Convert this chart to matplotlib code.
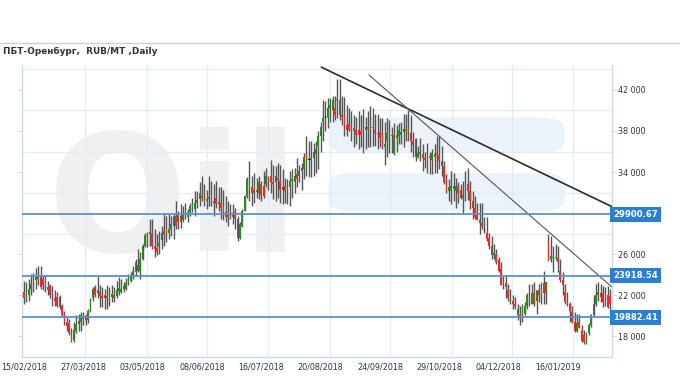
import numpy as np
import matplotlib.pyplot as plt
from matplotlib.patches import FancyBboxPatch
from matplotlib.ticker import FuncFormatter

# daily candles, index = trading day since 15/02/2018
opens = [
    22300, 21800, 22000, 22600, 23100, 23500, 23600, 23900, 23600, 23700,
    22800, 22900, 22000, 21700, 21800, 21800, 21000, 20200, 19400, 19300,
    18500, 17700, 18500, 19200, 19400, 19900, 20000, 19600, 20500, 21700,
    22800, 22200, 22300, 21900, 22000, 21700, 21900, 21800, 22000, 21900,
    22400, 22300, 22600, 22600, 23200, 23400, 23900, 25200, 24400, 24400,
    25500, 26800, 27000, 28000, 28100, 26800, 26600, 26800, 27400, 28000,
    28500, 28100, 28500, 28800, 29700, 29100, 29700, 29300, 30000, 29600,
    30100, 30700, 30400, 31000, 32000, 31500, 31800, 31200, 31400, 31700,
    31000, 31500, 30900, 31000, 30700, 30100, 29600, 30100, 29600, 30100,
    29400, 27600, 28800, 30200, 31700, 33300, 32500, 32000, 32300, 32000,
    32800, 32600, 32800, 33300, 33600, 33000, 33000, 33400, 33100, 32300,
    32600, 32200, 32500, 33100, 33000, 33800, 33600, 34100, 34300, 35700,
    35200, 35200, 35400, 35800, 36500, 37500, 38900, 39300, 39300, 40200,
    40000, 40200, 41100, 41000, 39600, 39600, 38600, 38700, 38100, 38300,
    38100, 38100, 38000, 38000, 38100, 38400, 38100, 38400, 38100, 37800,
    37900, 37800, 36400, 37000, 37400, 37600, 35900, 37600, 37500, 37600,
    37900, 38200, 38000, 37800, 37000, 37200, 35500, 35800, 35800, 35400,
    35200, 35600, 35200, 35500, 35800, 35700, 35100, 34600, 33000, 32200,
    32200, 32600, 32200, 32600, 32300, 31500, 31800, 32800, 32200, 31200,
    30500, 29900, 29300, 29000, 28300, 28100, 27600, 26800, 25900, 26000,
    25400, 24600, 23000, 23200, 22500, 21700, 21500, 21200, 20700, 20100,
    20100, 20200, 21000, 22000, 21200, 22200, 21500, 22500, 22100, 23200,
    22200, 27100, 25400, 25600, 25700, 25600, 24400, 23500, 22300, 21400,
    21200, 20400, 19400, 18500, 19400, 18600, 18100, 17300, 18300, 19100,
    20100, 21200, 22000, 22200, 22200, 21400, 22000, 21900,
]
highs = [
    23400, 23300, 23600, 24100, 24200, 24700, 24900, 24900, 24000, 24000,
    23400, 23100, 22900, 22500, 22300, 22000, 21200, 20500, 19900, 19700,
    18800, 19400, 20100, 20200, 20400, 20400, 20200, 20700, 21700, 22800,
    23000, 23900, 23000, 22800, 22600, 23000, 22800, 23000, 22800, 23400,
    23800, 23600, 23300, 23700, 24100, 24300, 24900, 25500, 26500, 26200,
    27000, 28100, 28200, 29400, 29400, 28500, 28000, 28300, 28800, 29900,
    29700, 29900, 29700, 29900, 31200, 30200, 30900, 30700, 31000, 30400,
    31000, 31500, 32200, 32200, 33000, 33600, 32800, 32300, 33600, 33100,
    32800, 33100, 32500, 32500, 32300, 31700, 31200, 30900, 30900, 30500,
    29700, 29100, 30400, 31800, 33500, 35100, 33600, 33900, 33400, 33600,
    33100, 34100, 34400, 33600, 35200, 34700, 34600, 34900, 34700, 34300,
    33400, 33300, 34100, 34300, 34400, 35400, 34700, 34900, 35900, 37500,
    37000, 37000, 36800, 37000, 38000, 38900, 41000, 40900, 41200, 41200,
    41400, 41400, 43100, 43100, 41400, 41300, 40500, 40200, 39900, 39600,
    39400, 39900, 39600, 40100, 39400, 39900, 40400, 40200, 39700, 39700,
    39300, 39300, 38900, 39300, 39100, 38400, 38800, 38600, 38800, 38900,
    39700, 39700, 40000, 39600, 37900, 37300, 36500, 37300, 36700, 36000,
    36800, 36000, 36200, 36700, 37500, 37500, 36500, 35100, 33800, 33300,
    34100, 33900, 33400, 33000, 32800, 33100, 34100, 34400, 33100, 32200,
    31700, 31000, 31000, 31000, 29600, 29600, 28100, 27800, 27000, 26500,
    25700, 25200, 23900, 23900, 23100, 22600, 22000, 21800, 21200, 21000,
    21200, 21400, 22200, 23100, 23100, 23300, 22500, 23100, 23300, 24400,
    23300, 28000, 27800, 26800, 27000, 26800, 25500, 24300, 23100, 22300,
    21400, 21000, 20400, 20200, 20200, 19100, 18600, 18400, 19300, 20200,
    22000, 23100, 23300, 23100, 22900, 22800, 22900, 22600,
]
lows = [
    21200, 21400, 21500, 22000, 22300, 22600, 23000, 22600, 22500, 22300,
    22000, 21700, 21000, 21000, 20900, 20700, 20000, 19100, 18500, 18100,
    17500, 17500, 18300, 18500, 18500, 19100, 19100, 19300, 20400, 21500,
    21800, 21700, 20900, 20900, 20700, 20700, 21000, 21400, 21400, 21700,
    22000, 22200, 22300, 22500, 23000, 23300, 23600, 23900, 24300, 23600,
    25400, 26700, 26700, 26800, 26500, 25700, 25900, 26000, 26500, 26800,
    27200, 27500, 27800, 27500, 28500, 28500, 28600, 29100, 29400, 29100,
    29700, 30100, 29700, 30500, 30700, 31200, 30700, 30400, 30700, 30700,
    29700, 30500, 30200, 29400, 29300, 29100, 28800, 29400, 28900, 28500,
    27300, 27500, 28700, 30200, 31500, 31200, 30700, 31000, 31500, 31400,
    31200, 31500, 32500, 32300, 32000, 31400, 31200, 31500, 31000, 30900,
    31000, 30900, 30700, 31500, 32000, 32500, 33000, 32300, 33300, 33600,
    33500, 33500, 33600, 33900, 34300, 36000, 37000, 38000, 38300, 38900,
    38900, 39100, 39300, 39100, 38600, 37500, 37500, 38000, 37000, 36400,
    36700, 36200, 36400, 35900, 36200, 36400, 36400, 36500, 36500, 36200,
    36400, 36200, 34700, 35500, 35900, 35900, 35700, 36000, 36700, 36700,
    36400, 37000, 37000, 36000, 35500, 35100, 35400, 35100, 34100, 34400,
    33900, 33800, 33800, 33900, 33900, 34300, 33600, 32800, 32000, 31200,
    30900, 31200, 30500, 31000, 31400, 29900, 31200, 31300, 30400, 29400,
    29400, 29300, 28000, 28500, 28100, 27300, 26500, 25500, 25500, 25100,
    24300, 23000, 22600, 21700, 21500, 21200, 20700, 20700, 19600, 19100,
    19400, 20100, 20700, 21000, 21200, 21000, 20200, 21400, 21200, 21200,
    21200, 25300, 25200, 24300, 25400, 24300, 23300, 22000, 21200, 21000,
    19400, 19300, 18400, 18400, 18800, 17500, 17300, 17300, 18100, 18900,
    19900, 21000, 21500, 21400, 20900, 21000, 20800, 20400,
]
closes = [
    21700, 22200, 22600, 23100, 23500, 23800, 23900, 22800, 23000, 22800,
    22500, 22000, 21700, 21500, 21000, 20900, 20100, 19300, 19000, 18300,
    17600, 18600, 19200, 19500, 20100, 19700, 19600, 20500, 21500, 22600,
    22000, 22500, 21900, 21700, 21700, 21900, 21700, 22100, 21700, 22500,
    22700, 22600, 22900, 23200, 23600, 23900, 24400, 24300, 25000, 25500,
    26800, 27900, 28000, 28100, 26800, 26500, 26200, 27100, 28100, 28300,
    28000, 28500, 28900, 29700, 28800, 29900, 29100, 29900, 29800, 30100,
    30700, 30900, 31000, 31300, 31400, 31700, 31200, 31400, 31600, 31000,
    31200, 30900, 31100, 30500, 30100, 29600, 29900, 29600, 29800, 29400,
    27600, 28900, 30200, 31700, 33300, 32300, 32000, 32300, 32100, 33000,
    31800, 31700, 33600, 33000, 33000, 32800, 33600, 33200, 32300, 32500,
    32200, 32400, 33100, 33300, 33600, 33300, 34100, 34400, 35500, 35100,
    35200, 35400, 36000, 36200, 37500, 38400, 39300, 39300, 40200, 40500,
    41000, 39600, 41000, 39600, 39400, 38400, 38100, 38100, 38300, 38000,
    37600, 37600, 37600, 38400, 38400, 38200, 38400, 38300, 37800, 37700,
    37300, 36400, 36700, 37800, 37600, 37500, 37600, 37300, 38100, 37900,
    38200, 38000, 38300, 37000, 36600, 35500, 35900, 36000, 35400, 35200,
    35700, 35400, 35900, 35800, 35700, 35100, 34600, 33000, 32200, 32500,
    32600, 32400, 32600, 32000, 31500, 31800, 32600, 32200, 31200, 30500,
    29600, 29300, 29000, 28800, 28300, 27500, 26800, 25900, 26100, 25200,
    24400, 23000, 23300, 22800, 21700, 21900, 21200, 21000, 20100, 19800,
    21000, 21000, 22000, 21800, 22200, 21200, 22500, 22000, 23200, 22200,
    23300, 25400, 25800, 25700, 25600, 25200, 23500, 23000, 21400, 21200,
    20500, 19400, 18500, 19300, 18800, 17600, 17500, 18300, 19100, 20100,
    21200, 22000, 22300, 21800, 21400, 22000, 20900, 21200,
]

date_labels = ['15/02/2018', '27/03/2018', '03/05/2018', '08/06/2018', '16/07/2018',
               '20/08/2018', '24/09/2018', '29/10/2018', '04/12/2018', '16/01/2019']
date_idx = [0, 25, 50, 75, 100, 125, 150, 175, 200, 225]

levels = [29900.67, 23918.54, 19882.41]

# drawn trend lines: (start idx, end idx), (start price, end price)
trend1_x = [125.4, 247.6]
trend1_y = [44200, 30650]
trend2_x = [145.4, 247.6]
trend2_y = [43450, 22840]

o = np.array(opens)
h = np.array(highs)
l = np.array(lows)
c = np.array(closes)
x = np.arange(len(o))

fig = plt.figure(figsize=(6.8, 3.8), dpi=100)
ax = fig.add_axes([0.0319, 0.0605, 0.8677, 0.7684])
ax.set_xlim(-0.97, 247.66)
ax.set_ylim(16160, 44420)

grid_col = '#e3edf7'
axis_col = '#c9dcef'

# watermark
ax.text(0.045, 0.36, 'Oil', transform=ax.transAxes, fontsize=118, fontweight='bold',
        color='#f0f0f0', zorder=0)
for (bx, by, bw, bh) in [(0.52, 0.70, 0.40, 0.12), (0.52, 0.50, 0.40, 0.13)]:
    ax.add_patch(FancyBboxPatch((bx, by), bw, bh, boxstyle='round,pad=0,rounding_size=0.04',
                                transform=ax.transAxes, facecolor='#ecf2fa',
                                edgecolor='none', zorder=0))

# grid
ax.set_yticks(np.arange(16000, 44001, 4000), minor=True)
ax.set_xticks([25.7, 51.7, 77.2, 102.9, 128.9, 154.2, 180.2, 205.8, 231.5], minor=True)
ax.grid(True, which='minor', color=grid_col, lw=1.0, zorder=0.5)
ax.tick_params(which='minor', length=0)

# candles
ax.vlines(x, l, h, color='#555555', lw=1.0, zorder=2)
body_col = np.where(c > o, '#2b8a1e', np.where(c < o, '#f22a2a', '#111111'))
body_h = np.maximum(np.abs(c - o), 120)
ax.bar(x, body_h, bottom=np.minimum(o, c), width=0.7, color=body_col, zorder=3, linewidth=0)

# trend lines
ax.plot(trend1_x, trend1_y, color='#2b2b2b', lw=1.2, zorder=4)
ax.plot(trend2_x, trend2_y, color='#555555', lw=0.8, zorder=4)

# levels
for lv in levels:
    ax.axhline(lv, color='#5a93cf', lw=1.3, zorder=4)
    ax.text(1.0025, lv, f'{lv:.2f}', transform=ax.get_yaxis_transform(), ha='left',
            va='center', color='white', fontsize=6.1, fontweight='bold', zorder=6,
            bbox=dict(boxstyle='square,pad=0.35', facecolor='#2a7fd3', edgecolor='none'),
            clip_on=False)

# axes styling
ax.set_yticks([18000, 22000, 26000, 34000, 38000, 42000])
ax.yaxis.set_major_formatter(FuncFormatter(lambda v, p: f'{int(v):,}'.replace(',', ' ')))
ax.yaxis.tick_right()
ax.tick_params(axis='y', which='major', left=True, right=True, length=3, width=0.8,
               color=axis_col, labelsize=5.8, labelcolor='#333333', pad=1.5)
ax.set_xticks(date_idx)
ax.set_xticklabels(date_labels)
ax.tick_params(axis='x', which='major', length=0, labelsize=5.8, labelcolor='#333333', pad=4)
for s in ['left', 'bottom', 'right']:
    ax.spines[s].set_color(axis_col)
    ax.spines[s].set_linewidth(1.0)
ax.spines['top'].set_visible(False)

fig.add_artist(plt.Line2D([0, 1], [0.888, 0.888], color='#cfcfcf', lw=1.0))
fig.text(0.004, 0.864, 'ПБТ-Оренбург,  RUB/MT ,Daily', fontsize=6.4, fontweight='bold',
         color='#333333', va='center', ha='left')

fig.savefig('out.png', dpi=100)
